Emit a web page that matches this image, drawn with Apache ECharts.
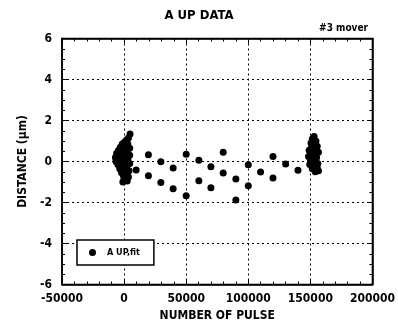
<!DOCTYPE html>
<html>
<head>
<meta charset="utf-8">
<script src="https://cdn.jsdelivr.net/npm/echarts@6/dist/echarts.min.js"></script>
<style>
  html, body { margin: 0; padding: 0; background: #fff; }
  #chart { width: 398px; height: 330px; }
</style>
</head>
<body>
<div id="chart"></div>
<script>
// scattered mid-run points [pulse, distance]
const midPoints = [
  [9700, -0.41], [19600, 0.33], [19600, -0.69], [29600, -0.01], [29600, -1.02],
  [39500, -0.32], [39500, -1.33], [50000, 0.35], [50000, -1.67], [60200, 0.06],
  [60200, -0.94], [69900, -0.25], [69900, -1.28], [79800, 0.45], [79800, -0.56],
  [90000, -0.85], [90000, -1.88], [100000, -0.16], [100000, -1.18], [109900, -0.51],
  [119900, 0.24], [119900, -0.80], [130100, -0.12], [140000, -0.43]
];
// dense cluster at the start
const startCluster = [
  [4800, 1.34], [3500, 1.15], [2000, 1.05], [500, 0.95], [-1500, 0.85], [3000, 0.85],
  [-3000, 0.7], [1000, 0.7], [4500, 0.65], [-4500, 0.55], [-1000, 0.55], [2500, 0.5],
  [-6000, 0.4], [-2500, 0.35], [1000, 0.35], [4500, 0.3], [-7000, 0.2], [-4000, 0.2],
  [-500, 0.15], [3000, 0.1], [-6500, 0.0], [-3000, 0.0], [500, -0.05], [4500, -0.1],
  [-5000, -0.15], [-1500, -0.2], [2000, -0.25], [-3500, -0.35], [500, -0.4], [4000, -0.45],
  [-2000, -0.55], [2000, -0.6], [-500, -0.7], [3500, -0.75], [0, -0.85], [2500, -0.95],
  [-1000, -1.0]
];
// dense cluster at the end
const endCluster = [
  [153000, 1.22], [151500, 1.1], [154500, 1.0], [150500, 0.9], [153000, 0.85],
  [155500, 0.75], [151000, 0.7], [149000, 0.55], [153500, 0.55], [156500, 0.45],
  [150500, 0.4], [148500, 0.25], [152500, 0.25], [155000, 0.2], [150000, 0.1],
  [154000, 0.0], [151500, -0.05], [156000, -0.1], [149500, -0.15], [153000, -0.2],
  [155500, -0.3], [151500, -0.35], [156500, -0.45], [154000, -0.5]
];
const xTicks = [-50000, 0, 50000, 100000, 150000, 200000];
const yTicks = [-6, -4, -2, 0, 2, 4, 6];

const chart = echarts.init(document.getElementById('chart'));
const font = '"DejaVu Sans Condensed", "Liberation Sans Narrow", sans-serif';
const lbl = { color: '#000', fontFamily: font, fontWeight: 'bold', fontSize: 12 };

const option = {
  animation: false,
  title: {
    text: 'A UP DATA', left: 'center', top: 4,
    textStyle: { color: '#000', fontFamily: font, fontWeight: 'bold', fontSize: 13 }
  },
  graphic: [{
    type: 'text', right: 30, top: 23,
    style: { text: '#3 mover', fill: '#000', font: 'bold 10px ' + font }
  }],
  legend: {
    left: 77, top: 240,
    orient: 'vertical',
    padding: [8, 14, 8, 12],
    backgroundColor: '#fff', borderColor: '#000', borderWidth: 1.5, borderRadius: 0,
    itemWidth: 7, itemHeight: 7, itemGap: 0,
    textStyle: { color: '#000', fontFamily: font, fontWeight: 'bold', fontSize: 9, padding: [0, 0, 0, 6] },
    data: [{ name: 'A UP,fit', icon: 'circle' }]
  },
  grid: { left: 62, right: 25, top: 38.5, bottom: 45.5, show: true, borderColor: '#000', borderWidth: 1.5 },
  xAxis: [{
    type: 'value', min: xTicks[0], max: xTicks[xTicks.length - 1], interval: 50000,
    name: 'NUMBER OF PULSE', nameLocation: 'middle', nameGap: 22,
    nameTextStyle: { color: '#000', fontFamily: font, fontWeight: 'bold', fontSize: 12 },
    axisLine: { onZero: false, lineStyle: { color: '#000', width: 1.5 } },
    axisTick: { inside: true, length: 5, lineStyle: { color: '#000' } },
    minorTick: { show: true, splitNumber: 5, length: 3, lineStyle: { color: '#000' } },
    axisLabel: Object.assign({ margin: 8, formatter: v => String(v) }, lbl),
    splitLine: { lineStyle: { color: '#000', type: [2, 3], width: 1 } }
  }, {
    type: 'value', position: 'top', min: xTicks[0], max: xTicks[xTicks.length - 1], interval: 50000,
    axisLine: { onZero: false, lineStyle: { color: '#000', width: 1.5 } },
    axisTick: { inside: true, length: 5, lineStyle: { color: '#000' } },
    minorTick: { show: true, splitNumber: 5, length: 3, lineStyle: { color: '#000' } },
    axisLabel: { show: false }, splitLine: { show: false }
  }],
  yAxis: [{
    type: 'value', min: yTicks[0], max: yTicks[yTicks.length - 1], interval: 2,
    name: 'DISTANCE (\u03bcm)', nameLocation: 'middle', nameGap: 30,
    nameTextStyle: { color: '#000', fontFamily: font, fontWeight: 'bold', fontSize: 12 },
    axisLine: { onZero: false, lineStyle: { color: '#000', width: 1.5 } },
    axisTick: { inside: true, length: 5, lineStyle: { color: '#000' } },
    minorTick: { show: true, splitNumber: 4, length: 3, lineStyle: { color: '#000' } },
    axisLabel: Object.assign({ margin: 10 }, lbl),
    splitLine: { lineStyle: { color: '#000', type: [2, 3], width: 1 } }
  }, {
    type: 'value', position: 'right', min: yTicks[0], max: yTicks[yTicks.length - 1], interval: 2,
    axisLine: { onZero: false, lineStyle: { color: '#000', width: 1.5 } },
    axisTick: { inside: true, length: 5, lineStyle: { color: '#000' } },
    minorTick: { show: true, splitNumber: 4, length: 3, lineStyle: { color: '#000' } },
    axisLabel: { show: false }, splitLine: { show: false }
  }],
  series: [{
    name: 'A UP,fit', type: 'scatter', symbol: 'circle', symbolSize: 7,
    itemStyle: { color: '#000', opacity: 1 },
    data: startCluster.concat(midPoints, endCluster)
  }]
};
chart.setOption(option);
</script>
</body>
</html>
